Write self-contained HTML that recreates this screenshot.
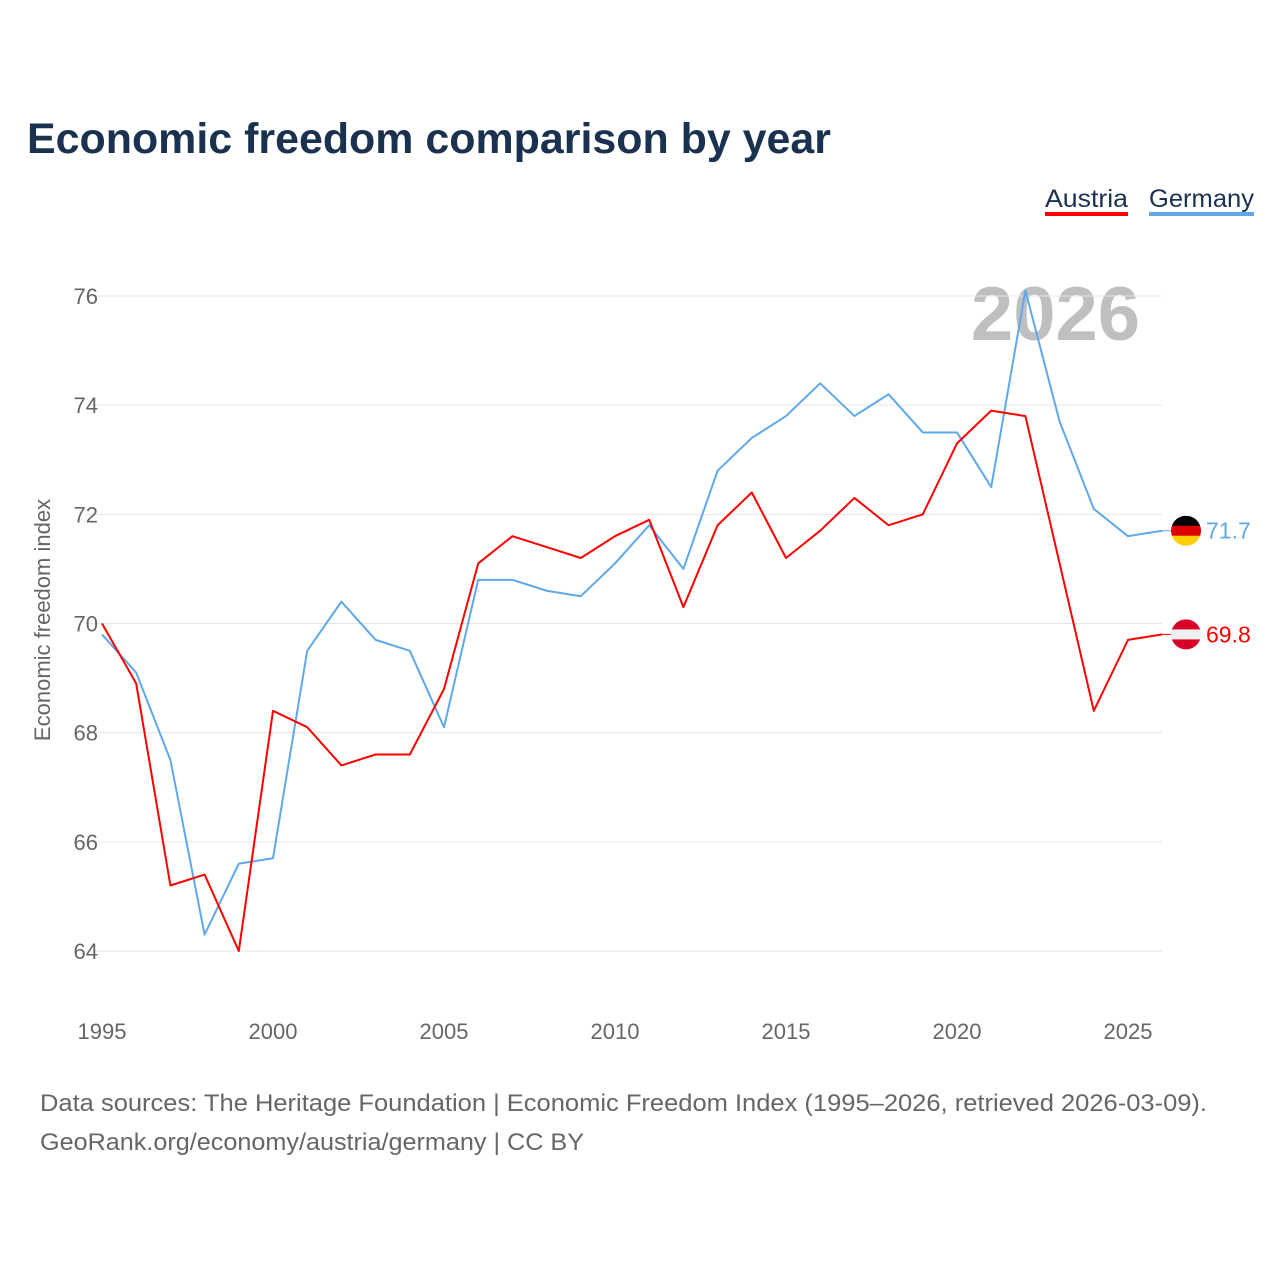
<!DOCTYPE html>
<html><head><meta charset="utf-8"><style>
body{margin:0;background:#fff;font-family:"Liberation Sans",sans-serif;}
svg text{font-family:"Liberation Sans",sans-serif;}
</style></head><body>
<svg id="chart" width="1280" height="1280" viewBox="0 0 1280 1280">
<text x="27" y="153" font-size="43" font-weight="bold" fill="#1a3150" textLength="804" lengthAdjust="spacingAndGlyphs">Economic freedom comparison by year</text>
<g>
<text x="1045" y="207" font-size="25" fill="#1a3150" textLength="83" lengthAdjust="spacingAndGlyphs">Austria</text>
<rect x="1045" y="212" width="83" height="4" fill="#ff0000"/>
<text x="1149" y="207" font-size="25" fill="#1a3150" textLength="105" lengthAdjust="spacingAndGlyphs">Germany</text>
<rect x="1149" y="212" width="105" height="4" fill="#5fa8eb"/>
</g>
<text x="1140" y="340" font-size="76" font-weight="bold" fill="#bfbfbf" text-anchor="end">2026</text>
<text transform="translate(50,620) rotate(-90)" font-size="22" fill="#666" text-anchor="middle">Economic freedom index</text>
<g id="grid"></g><g id="xt"></g><g id="lines"></g>
<text x="40" y="1111" font-size="24" fill="#666" textLength="1167" lengthAdjust="spacingAndGlyphs">Data sources: The Heritage Foundation | Economic Freedom Index (1995–2026, retrieved 2026-03-09).</text>
<text x="40" y="1150" font-size="24" fill="#666" textLength="544" lengthAdjust="spacingAndGlyphs">GeoRank.org/economy/austria/germany | CC BY</text>
</svg>
<script>
const years=[1995,1996,1997,1998,1999,2000,2001,2002,2003,2004,2005,2006,2007,2008,2009,2010,2011,2012,2013,2014,2015,2016,2017,2018,2019,2020,2021,2022,2023,2024,2025,2026];
const austria=[70.0,68.9,65.2,65.4,64.0,68.4,68.1,67.4,67.6,67.6,68.8,71.1,71.6,71.4,71.2,71.6,71.9,70.3,71.8,72.4,71.2,71.7,72.3,71.8,72.0,73.3,73.9,73.8,71.1,68.4,69.7,69.8];
const germany=[69.8,69.1,67.5,64.3,65.6,65.7,69.5,70.4,69.7,69.5,68.1,70.8,70.8,70.6,70.5,71.1,71.8,71.0,72.8,73.4,73.8,74.4,73.8,74.2,73.5,73.5,72.5,76.1,73.7,72.1,71.6,71.7];
const yTicks=[64,66,68,70,72,74,76];
const xTicks=[1995,2000,2005,2010,2015,2020,2025];
const NS="http://www.w3.org/2000/svg";
const X=y=>102+(y-1995)*1026/30;
const Y=v=>951-(v-64)*655/12;
function mk(t,a,p){const e=document.createElementNS(NS,t);for(const k in a)e.setAttribute(k,a[k]);p.appendChild(e);return e;}
const grid=document.getElementById('grid');
yTicks.forEach(t=>{
 const l=mk('line',{x1:85,x2:1162,y1:Y(t),y2:Y(t),stroke:'#e6e6e6','stroke-width':1},grid);
 
 
 const tx=mk('text',{x:98,y:Y(t)+8,'font-size':22,fill:'#666','text-anchor':'end'},grid);
 tx.textContent=t;
 
 
});
const xt=document.getElementById('xt');
xTicks.forEach(t=>{
 const tx=mk('text',{x:X(t),y:1039,'font-size':22,fill:'#666','text-anchor':'middle'},xt);
 tx.textContent=t;
 
 
});
const lines=document.getElementById('lines');
function series(vals,color,name,flag){
 const p=mk('polyline',{points:vals.map((v,i)=>X(years[i])+','+Y(v)).join(' '),fill:'none',stroke:color,'stroke-width':2,'stroke-linejoin':'round'},lines);
 
 
 const last=vals[vals.length-1],lx=X(years[years.length-1]),ly=Y(last);
 mk('line',{x1:lx,x2:1186,y1:ly,y2:ly,stroke:color,'stroke-width':1},lines);
 const g=mk('g',{},lines);
 
 
 const cid='c'+name;
 const cp=mk('clipPath',{id:cid},g);mk('circle',{cx:1186,cy:ly,r:15},cp);
 const h=30/3;
 flag.forEach((c,i)=>mk('rect',{x:1171,y:ly-15+i*h,width:30,height:h+0.5,fill:c,'clip-path':'url(#'+cid+')'},g));
 const t=mk('text',{x:1206,y:ly+8,'font-size':23,fill:color},lines);
 t.textContent=last.toFixed(1);
 
 
}
series(germany,'#5fa8eb','germany',['#000','#dd0000','#ffce00']);
series(austria,'#ff0000','austria',['#d80027','#f0f0f0','#d80027']);
</script>
</body></html>
